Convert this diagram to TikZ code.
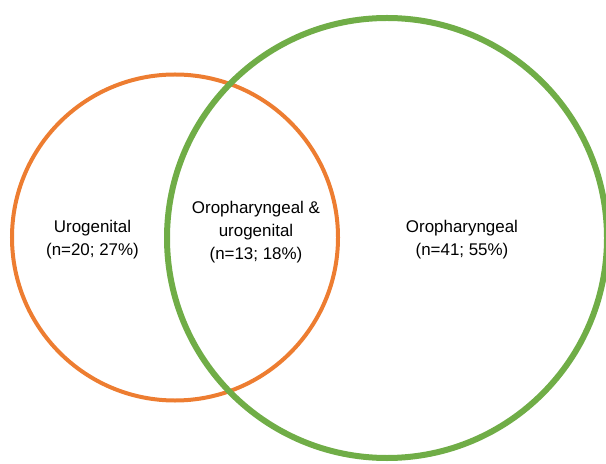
\documentclass[tikz,border=0pt]{standalone}
\usepackage{fontspec}
\setmainfont{Liberation Sans}
\usepackage{xcolor}
\definecolor{uroorange}{RGB}{237,125,49}
\definecolor{orogreen}{RGB}{112,173,71}

\begin{document}
\begin{tikzpicture}[x=1bp,y=-1bp]
\tikzstyle{ring} = [circle,inner sep=0pt,fill=none];
\tikzstyle{lbl} = [align=center,font=\fontsize{17}{23}\selectfont];

    \useasboundingbox (0,0) rectangle (606,464);

    \node (uro) at (175,237.5) [ring,draw=uroorange,line width=4bp,minimum size=326bp] {};
    \node (oro) at (387,238) [ring,draw=orogreen,line width=6bp,minimum size=440bp] {};

    \node (turo) at (92.5,240) [lbl] {Urogenital\\(n=20; 27\%)};
    \node (tboth) at (256,232) [lbl] {Oropharyngeal \&\\urogenital\\(n=13; 18\%)};
    \node (toro) at (462,240) [lbl] {Oropharyngeal\\(n=41; 55\%)};

\end{tikzpicture}
\end{document}
